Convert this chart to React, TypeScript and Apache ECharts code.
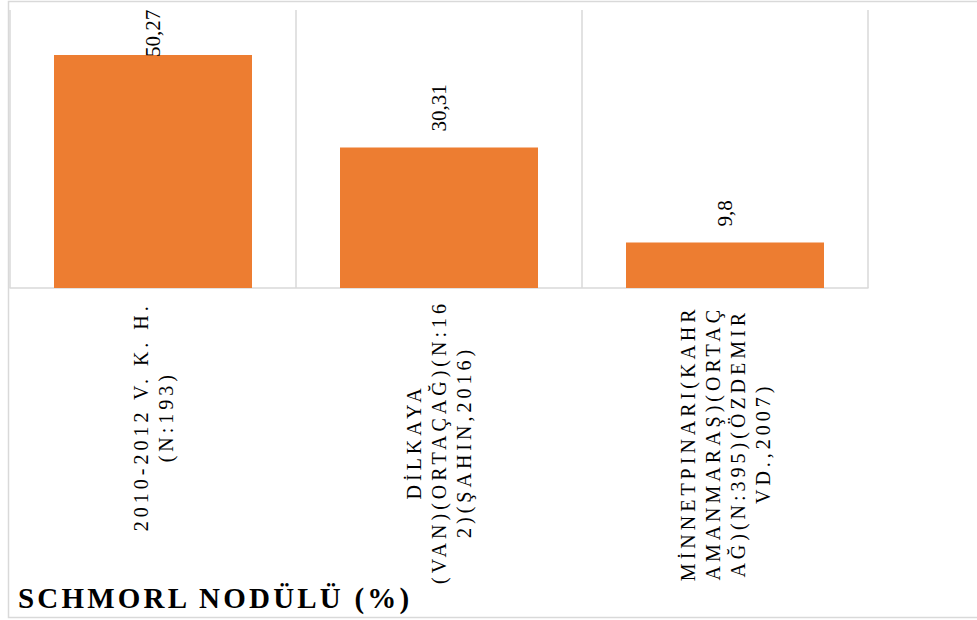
import React, { useEffect, useRef } from 'react';
import * as echarts from 'echarts';

const categories = [
  '2010-2012 V. K. H.\n(N:193)',
  'DİLKAYA\n(VAN)(ORTAÇAĞ)(N:16\n2)(ŞAHIN,2016)',
  'MİNNETPINARI(KAHR\nAMANMARAŞ)(ORTAÇ\nAĞ)(N:395)(ÖZDEMIR\nVD.,2007)',
];
const values = [50.27, 30.31, 9.8];
const titleText = 'SCHMORL NODÜLÜ (%)';
const yMin = 0;
const yMax = 60;

const FONT = 'Liberation Serif';

export default function App() {
  const ref = useRef<HTMLDivElement>(null);
  useEffect(() => {
    if (!ref.current) return;
    const chart = echarts.init(ref.current, undefined, { renderer: 'svg' });
    const data = values.map((v, i) =>
      i === 0
        ? { value: v, label: { position: 'insideTop', distance: 2 } }
        : { value: v }
    );
    chart.setOption({
      animation: false,
      backgroundColor: '#ffffff',
      title: {
        text: titleText,
        left: 18,
        top: 583,
        padding: 0,
        textStyle: { fontFamily: FONT, fontWeight: 'bold', fontSize: 29, color: '#000' },
      },
      grid: { left: 10, right: 109, top: 10, bottom: 332, containLabel: false },
      xAxis: {
        type: 'category',
        data: categories,
        axisLine: { show: true, lineStyle: { color: '#d9d9d9', width: 1.5 } },
        axisTick: { show: false },
        splitLine: { show: true, lineStyle: { color: '#d9d9d9', width: 1.5 } },
        axisLabel: {
          interval: 0,
          rotate: 90,
          margin: 50,
          fontFamily: FONT,
          formatter: (v: string) => `{c|${v}}`,
          rich: {
            c: { align: 'center', fontSize: 20, fontFamily: FONT, lineHeight: 25, color: '#000' },
          },
        },
      },
      yAxis: { type: 'value', min: yMin, max: yMax, show: false },
      series: [
        {
          type: 'bar',
          data,
          barWidth: 198,
          itemStyle: { color: '#ED7D31' },
          label: {
            show: true,
            position: 'top',
            distance: 16,
            rotate: 90,
            align: 'left',
            verticalAlign: 'middle',
            fontFamily: FONT,
            fontSize: 21,
            color: '#000',
            formatter: (p: any) => String(p.value).replace('.', ','),
          },
        },
      ],
      graphic: [
        {
          type: 'rect',
          silent: true,
          z: -1,
          shape: { x: 8.5, y: 1.5, width: 1000, height: 616 },
          style: { fill: 'none', stroke: '#d9d9d9', lineWidth: 1.5 },
        },
      ],
    });
    return () => chart.dispose();
  }, []);
  return (
    <>
      <style>{`
        #chart text[style*="20px"] { letter-spacing: 4px; }
        #chart text[style*="29px"] { letter-spacing: 3.2px; }
      `}</style>
      <div
        id="chart"
        ref={ref}
        style={{ position: 'fixed', left: 0, top: 0, width: 977, height: 620, background: '#fff' }}
      />
    </>
  );
}
